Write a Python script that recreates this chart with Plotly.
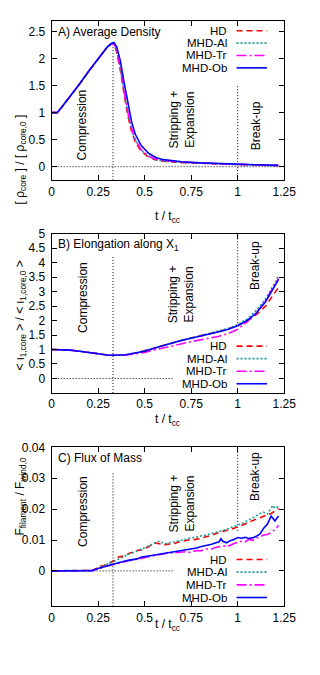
import plotly.graph_objects as go

# ---------------- DATA ----------------
series_names = ["HD", "MHD-Al", "MHD-Tr", "MHD-Ob"]
series_colors = ["#ff0000", "#1a9c9c", "#ff00ff", "#0000ff"]
series_dash = ["6px,4px", "2px,2px", "10px,3px,2px,3px", "solid"]

x_ticks = [0, 0.25, 0.5, 0.75, 1, 1.25]
x_tick_text = ["0", "0.25", "0.5", "0.75", "1", "1.25"]

# Panel A: average density
tA = [0, 0.02, 0.03, 0.05, 0.1, 0.15, 0.2, 0.25, 0.3, 0.32, 0.335, 0.35, 0.37, 0.39,
      0.41, 0.43, 0.45, 0.48, 0.52, 0.56, 0.6, 0.7, 0.8, 0.9, 1.0, 1.1, 1.22]
rho_HD = [1.0, 1.0, 1.0, 1.08, 1.3, 1.53, 1.77, 2.0, 2.22, 2.27, 2.27, 2.12, 1.77, 1.33,
          0.94, 0.65, 0.46, 0.29, 0.18, 0.125, 0.1, 0.075, 0.06, 0.05, 0.04, 0.03, 0.02]
rho_Al = [1.0, 1.0, 1.0, 1.08, 1.3, 1.53, 1.77, 2.0, 2.22, 2.27, 2.28, 2.15, 1.82, 1.38,
          0.99, 0.69, 0.49, 0.31, 0.19, 0.13, 0.105, 0.078, 0.062, 0.05, 0.04, 0.03, 0.02]
rho_Tr = [1.0, 1.0, 1.0, 1.08, 1.3, 1.53, 1.77, 2.0, 2.22, 2.27, 2.28, 2.15, 1.83, 1.4,
          1.01, 0.71, 0.5, 0.32, 0.2, 0.14, 0.115, 0.085, 0.066, 0.053, 0.043, 0.033, 0.022]
rho_Ob = [1.0, 1.0, 1.0, 1.08, 1.3, 1.53, 1.77, 2.0, 2.22, 2.28, 2.30, 2.22, 1.95, 1.55,
          1.15, 0.83, 0.6, 0.4, 0.25, 0.17, 0.13, 0.09, 0.07, 0.055, 0.045, 0.035, 0.025]

# Panel B: elongation along X1
tB = [0, 0.05, 0.1, 0.15, 0.2, 0.25, 0.3, 0.33, 0.4, 0.45, 0.5, 0.55, 0.6, 0.65, 0.7,
      0.75, 0.8, 0.85, 0.9, 0.95, 1.0, 1.05, 1.1, 1.15, 1.2, 1.22]
el_HD = [1.0, 1.0, 0.98, 0.94, 0.89, 0.84, 0.81, 0.8, 0.82, 0.88, 0.95, 1.04, 1.14, 1.23,
         1.32, 1.4, 1.47, 1.54, 1.62, 1.71, 1.82, 1.98, 2.2, 2.5, 2.95, 3.15]
el_Al = [1.0, 1.0, 0.98, 0.94, 0.89, 0.84, 0.81, 0.8, 0.82, 0.88, 0.95, 1.04, 1.14, 1.23,
         1.32, 1.4, 1.48, 1.56, 1.64, 1.73, 1.86, 2.05, 2.35, 2.75, 3.3, 3.55]
el_Tr = [1.0, 1.0, 0.98, 0.94, 0.89, 0.84, 0.81, 0.8, 0.81, 0.85, 0.9, 0.98, 1.06, 1.13,
         1.2, 1.27, 1.33, 1.4, 1.46, 1.55, 1.7, 1.95, 2.25, 2.7, 3.25, 3.45]
el_Ob = [1.0, 1.0, 0.98, 0.94, 0.89, 0.84, 0.81, 0.8, 0.82, 0.88, 0.94, 1.04, 1.14, 1.23,
         1.32, 1.39, 1.46, 1.53, 1.61, 1.7, 1.82, 2.0, 2.26, 2.65, 3.2, 3.42]

# Panel C: flux of mass
tC = [0, 0.05, 0.1, 0.15, 0.2, 0.22, 0.24, 0.26, 0.28, 0.3, 0.32, 0.34, 0.36, 0.38, 0.4,
      0.42, 0.44, 0.46, 0.48, 0.5, 0.52, 0.54, 0.56, 0.58, 0.6, 0.62, 0.64, 0.66, 0.68,
      0.7, 0.72, 0.74, 0.76, 0.78, 0.8, 0.82, 0.84, 0.86, 0.88, 0.9, 0.91, 0.92, 0.94,
      0.96, 0.98, 1.0, 1.02, 1.04, 1.06, 1.08, 1.1, 1.12, 1.14, 1.16, 1.18, 1.19, 1.2, 1.22]
fl_HD = [0, 0, 0, 0, 0, 0.0002, 0.0008, 0.0017, 0.0016, 0.0025, 0.0028, 0.0035, 0.0045,
         0.0047, 0.0052, 0.0058, 0.006, 0.0066, 0.0068, 0.0072, 0.0078, 0.0086, 0.009,
         0.0088, 0.0083, 0.0086, 0.0087, 0.0089, 0.0093, 0.0095, 0.0097, 0.0101, 0.0100,
         0.0103, 0.0105, 0.0108, 0.011, 0.0115, 0.012, 0.0126, 0.0127, 0.0128, 0.013,
         0.0134, 0.0138, 0.0142, 0.0148, 0.0152, 0.0158, 0.0164, 0.0168, 0.0172, 0.0178,
         0.0182, 0.0186, 0.019, 0.0194, 0.0202]
fl_Al = [0, 0, 0, 0, 0, 0.0002, 0.0006, 0.0012, 0.0018, 0.0022, 0.0026, 0.0032, 0.004,
         0.0045, 0.0052, 0.0056, 0.006, 0.0064, 0.007, 0.0075, 0.008, 0.0086, 0.0093,
         0.0096, 0.009, 0.0088, 0.0092, 0.0094, 0.0097, 0.0099, 0.0102, 0.0106, 0.0107,
         0.011, 0.0113, 0.0114, 0.0118, 0.0121, 0.0124, 0.0128, 0.0129, 0.0131, 0.0134,
         0.014, 0.0145, 0.0148, 0.0152, 0.0158, 0.0165, 0.0172, 0.0178, 0.0186, 0.019,
         0.0184, 0.0205, 0.0212, 0.0203, 0.0208]
fl_Tr = [0, 0, 0, 0, 0, 0.0001, 0.0005, 0.0009, 0.0013, 0.0016, 0.0019, 0.0022, 0.0025,
         0.0029, 0.0031, 0.0034, 0.0035, 0.0038, 0.0042, 0.0043, 0.0046, 0.0048, 0.0051,
         0.0053, 0.0055, 0.0057, 0.0058, 0.006, 0.0062, 0.0063, 0.0062, 0.006, 0.0064,
         0.0066, 0.0065, 0.0069, 0.0072, 0.0071, 0.0076, 0.0078, 0.008, 0.0082, 0.0078,
         0.0084, 0.0089, 0.0092, 0.0096, 0.0094, 0.0102, 0.0099, 0.0106, 0.011, 0.0116,
         0.0118, 0.0128, 0.013, 0.0132, 0.0148]
fl_Ob = [0, 0, 0, 0, 0, 0.0001, 0.0006, 0.0010, 0.0014, 0.0017, 0.0020, 0.0023, 0.0027,
         0.003, 0.0033, 0.0035, 0.0036, 0.0039, 0.0044, 0.0046, 0.0047, 0.005, 0.0052,
         0.0054, 0.0055, 0.0058, 0.006, 0.0062, 0.0064, 0.0066, 0.0068, 0.007, 0.0072,
         0.0074, 0.0078, 0.008, 0.0083, 0.0086, 0.009, 0.0094, 0.0104, 0.0096, 0.0091,
         0.0098, 0.0102, 0.0108, 0.0106, 0.0109, 0.0105, 0.0107, 0.0112, 0.012, 0.0138,
         0.0152, 0.0178, 0.0168, 0.0162, 0.0178]

# Phase markers (t/tcc) and reference lines
t_compression_end = 0.33
t_breakup = 1.0
phase_labels = ["Compression", "Stripping +<br>Expansion", "Break-up"]
phase_x = [0.165, 0.70, 1.096]

panel_titles = ["A) Average Density", "B) Elongation along X<sub>1</sub>", "C) Flux of Mass"]
y_titles = ["[ ρ<sub>core</sub> ] / [ ρ<sub>core,0</sub> ]",
            "&lt; ι<sub>1,core</sub> &gt; / &lt; ι<sub>1,core,0</sub> &gt;",
            "F<sub>filament</sub> / F<sub>wind,0</sub>"]
x_title = "t / t<sub>cc</sub>"

y_ranges = [[-0.25, 2.7], [-0.5, 5.0], [-0.0115, 0.04]]
y_ticks = [[0, 0.5, 1, 1.5, 2, 2.5],
           [0, 0.5, 1, 1.5, 2, 2.5, 3, 3.5, 4, 4.5, 5],
           [0, 0.01, 0.02, 0.03, 0.04]]
y_tick_text = [["0", "0.5", "1", "1.5", "2", "2.5"],
               ["0", "0.5", "1", "1.5", "2", "2.5", "3", "3.5", "4", "4.5", "5"],
               ["0", "0.01", "0.02", "0.03", "0.04"]]
phase_y = [[0.77, 0.87, 0.76], [2.79, 2.9, 3.9], [0.0192, 0.0218, 0.0306]]
zero_line_end = [1.25, 0.65, 0.65]
vline1_top = [2.30, 4.2, 0.0317]
vline2_span = [[-0.25, 1.53], [1.8, 5.0], [0.013, 0.04]]

panels = [
    (tA, [rho_HD, rho_Al, rho_Tr, rho_Ob]),
    (tB, [el_HD, el_Al, el_Tr, el_Ob]),
    (tC, [fl_HD, fl_Al, fl_Tr, fl_Ob]),
]

# ---------------- LAYOUT (pixels) ----------------
W, H = 320, 675
X0, X1 = 51, 295
frames = [(14, 175), (229, 390), (445, 605.7)]
legend_rows = [[24, 36.5, 49, 61.5], [342.7, 355.3, 368, 380.7], [558.3, 571, 583.9, 596.7]]
ytitle_center = [107, 312, 536]
xtitle_center = [202, 417, 635]

FONT = "Liberation Sans, Arial, Helvetica, sans-serif"

fig = go.Figure()
layout = dict(width=W, height=H, margin=dict(l=0, r=0, t=0, b=0), autosize=False,
              paper_bgcolor="white", plot_bgcolor="white", showlegend=False,
              font=dict(family=FONT, size=12, color="black"))
annotations = []
shapes = []
dot = dict(color="black", width=1, dash="1px,2px")

for i, (t, ys) in enumerate(panels):
    n = "" if i == 0 else str(i + 1)
    xa, ya = "x" + n, "y" + n
    top, bot = frames[i]
    ydom = [1 - bot / H, 1 - top / H]
    xdom = [X0 / W, X1 / W]
    for k in range(4):
        fig.add_trace(go.Scatter(
            x=t, y=ys[k], mode="lines", name=series_names[k],
            line=dict(color=series_colors[k], width=1.6, dash=series_dash[k]),
            xaxis=xa, yaxis=ya, showlegend=False))
    layout["xaxis" + n] = dict(domain=xdom, anchor=ya, range=[0, 1.25],
                               tickvals=x_ticks, ticktext=x_tick_text,
                               ticks="inside", ticklen=5, tickcolor="black",
                               showline=True, linecolor="black", linewidth=1,
                               mirror="ticks", showgrid=False, zeroline=False,
                               tickfont=dict(size=12))
    layout["yaxis" + n] = dict(domain=ydom, anchor=xa, range=y_ranges[i],
                               tickvals=y_ticks[i], ticktext=y_tick_text[i],
                               ticks="inside", ticklen=5, tickcolor="black",
                               showline=True, linecolor="black", linewidth=1,
                               mirror="ticks", showgrid=False, zeroline=False,
                               tickfont=dict(size=12), ticklabelstandoff=3)
    # reference lines
    shapes.append(dict(type="line", xref=xa, yref=ya, x0=0, x1=zero_line_end[i],
                       y0=0, y1=0, line=dot, layer="below"))
    shapes.append(dict(type="line", xref=xa, yref=ya, x0=t_compression_end,
                       x1=t_compression_end, y0=y_ranges[i][0], y1=vline1_top[i],
                       line=dot, layer="below"))
    shapes.append(dict(type="line", xref=xa, yref=ya, x0=t_breakup, x1=t_breakup,
                       y0=vline2_span[i][0], y1=vline2_span[i][1], line=dot, layer="below"))
    # panel title
    annotations.append(dict(text=panel_titles[i], xref="paper", yref="paper",
                            x=(X0 + 5) / W, y=1 - (top + 11) / H, xanchor="left",
                            yanchor="middle", showarrow=False, font=dict(size=12)))
    # phase labels
    for j in range(3):
        annotations.append(dict(text=phase_labels[j], xref=xa, yref=ya,
                                x=phase_x[j], y=phase_y[i][j], textangle=-90,
                                showarrow=False, font=dict(size=12), align="center"))
    # axis titles
    annotations.append(dict(text=y_titles[i], xref="paper", yref="paper",
                            x=8 / W, y=1 - ytitle_center[i] / H, textangle=-90,
                            showarrow=False, font=dict(size=12)))
    annotations.append(dict(text=x_title, xref="paper", yref="paper",
                            x=(X0 + X1) / 2 / W, y=1 - xtitle_center[i] / H,
                            showarrow=False, font=dict(size=12)))
    # legend (gnuplot style: label right-aligned, sample to the right)
    for k in range(4):
        yr = legend_rows[i][k]
        yp = 1 - yr / H
        annotations.append(dict(text=series_names[k], xref="paper", yref="paper",
                                x=237 / W, y=yp, xanchor="right", yanchor="middle",
                                showarrow=False, font=dict(size=11.5)))
        shapes.append(dict(type="line", xref="paper", yref="paper",
                           x0=245 / W, x1=277 / W, y0=yp, y1=yp,
                           line=dict(color=series_colors[k], width=1.6,
                                     dash=series_dash[k])))

layout["annotations"] = annotations
layout["shapes"] = shapes
fig.update_layout(**layout)
fig.write_html("out.html", config={"displayModeBar": False},
               post_script="document.body.style.margin='0';document.body.style.overflow='hidden';")
